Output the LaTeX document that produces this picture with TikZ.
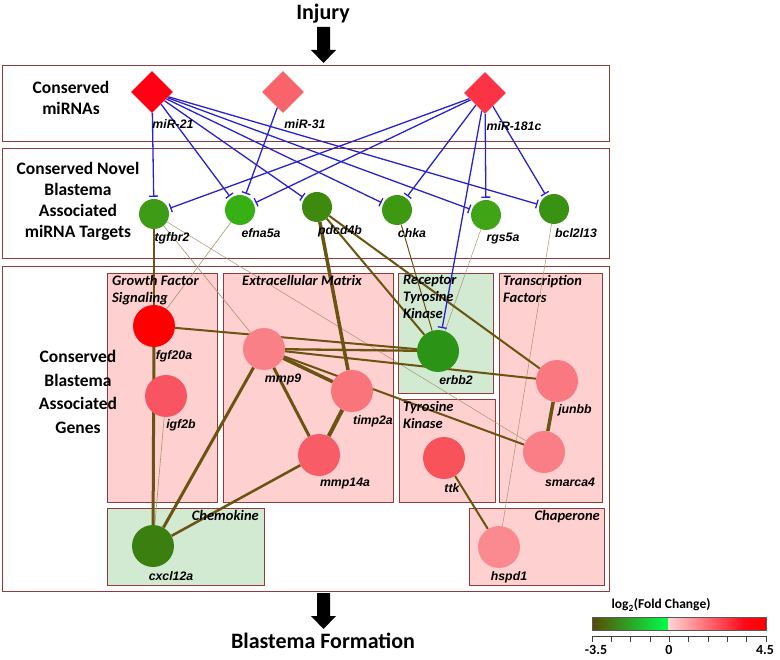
\documentclass[tikz,border=0pt]{standalone}
\usepackage{fontspec}
\setmainfont{Carlito}
\newfontfamily\arialf{Liberation Sans}
\usetikzlibrary{shapes.geometric,arrows.meta}
\pgfdeclarelayer{bg}
\pgfdeclarelayer{edges}
\pgfsetlayers{bg,edges,main}
\definecolor{boxline}{HTML}{8E3B3B}
\definecolor{pinkfill}{HTML}{FFD0D0}
\definecolor{greenfill}{HTML}{D2E9D2}
\definecolor{edgeol}{HTML}{6B5311}
\definecolor{thinol}{HTML}{A89470}
\definecolor{inhib}{HTML}{2A22CC}
\tikzset{
  mirna/.style={diamond, aspect=1, minimum width=42pt, minimum height=42pt, inner sep=0pt},
  tnode/.style={circle, minimum size=30pt, inner sep=0pt},
  gnode/.style={circle, minimum size=42pt, inner sep=0pt},
  lbl/.style={font=\arialf\bfseries\itshape\fontsize{12.3}{14}\selectfont, inner sep=0pt},
  sect/.style={font=\bfseries\fontsize{17.5}{21}\selectfont, align=center, inner sep=0pt},
  sectg/.style={font=\bfseries\fontsize{17.5}{23.5}\selectfont, align=center, inner sep=0pt},
  grp/.style={font=\bfseries\itshape\fontsize{14.5}{17}\selectfont, inner sep=0pt, align=left},
  bigbox/.style={draw=boxline, line width=0.9pt, fill=white},
  pinkbox/.style={draw=boxline, line width=0.9pt, fill=pinkfill},
  greenbox/.style={draw=boxline, line width=0.9pt, fill=greenfill},
  inh/.style={draw=inhib, line width=1.3pt, -{Bar[width=9pt,line width=1.3pt]}, shorten >=2pt},
  ia/.style={draw=edgeol},
  ib/.style={draw=thinol, line width=0.6pt},
  blockarrow/.style={fill=black},
  ticklbl/.style={font=\bfseries\fontsize{14}{16}\selectfont, inner sep=0pt},
}
\begin{document}
\begin{tikzpicture}[x=1pt,y=-1pt]
\useasboundingbox (0,0) rectangle (780,660);

% ---------- frames ----------
\begin{pgfonlayer}{bg}
\draw[bigbox] (2,65) rectangle (609,141);
\draw[bigbox] (2,148) rectangle (609,258);
\draw[bigbox] (2,266) rectangle (609,591);
\draw[pinkbox] (107,273) rectangle (217,502);
\draw[pinkbox] (223,273) rectangle (393,502);
\draw[greenbox] (398,273) rectangle (493,393);
\draw[pinkbox] (399,399) rectangle (495,502);
\draw[pinkbox] (499,273) rectangle (602,502);
\draw[greenbox] (107,508) rectangle (264,585);
\draw[pinkbox] (469,508) rectangle (604,585);
\end{pgfonlayer}

% ---------- titles and arrows ----------
\node[font=\bfseries\fontsize{22}{26}\selectfont, inner sep=0pt] (injury) at (323,14) {Injury};
\fill[blockarrow] (317,27) -- (330,27) -- (330,50) -- (336,50) -- (323.5,63) -- (311,50) -- (317,50) -- cycle;
\fill[blockarrow] (317,593) -- (330,593) -- (330,616) -- (336,616) -- (323.5,629) -- (311,616) -- (317,616) -- cycle;
\node[font=\bfseries\fontsize{22}{26}\selectfont, inner sep=0pt] (blastema) at (323,641) {Blastema Formation};

% ---------- section labels ----------
\node[sect] (s1) at (71,98) {Conserved\\miRNAs};
\node[sect] (s2) at (78,201) {Conserved Novel\\Blastema\\Associated\\miRNA Targets};
\node[sectg] (s3) at (78,392) {Conserved\\Blastema\\Associated\\Genes};

% ---------- group labels ----------
\node[grp, anchor=north west] (g1) at (112,275) {Growth Factor\\Signaling};
\node[grp, anchor=north] (g2) at (302,275) {Extracellular Matrix};
\node[grp, anchor=north west] (g3) at (403,275) {Receptor\\Tyrosine\\Kinase};
\node[grp, anchor=north west] (g4) at (403,401) {Tyrosine\\Kinase};
\node[grp, anchor=north west] (g5) at (503,275) {Transcription\\Factors};
\node[grp, anchor=north east] (g6) at (259,510) {Chemokine};
\node[grp, anchor=north east] (g7) at (600,510) {Chaperone};

% ---------- miRNAs ----------
\node[mirna, fill={rgb,255:red,255;green,0;blue,20}] (m21) at (152,92) {};
\node[mirna, fill={rgb,255:red,249;green,99;blue,106}] (m31) at (283,92) {};
\node[mirna, fill={rgb,255:red,252;green,51;blue,68}] (m181) at (485,93) {};
\node[lbl] (lm21) at (173,124) {miR-21};
\node[lbl] (lm31) at (305,124) {miR-31};
\node[lbl] (lm181) at (514,126) {miR-181c};

% ---------- targets ----------
\node[tnode, fill={rgb,255:red,62;green,155;blue,22}] (tgfbr2) at (154,214) {};
\node[tnode, fill={rgb,255:red,54;green,176;blue,20}] (efna5a) at (240,210) {};
\node[tnode, fill={rgb,255:red,62;green,138;blue,14}] (pdcd4b) at (317,207) {};
\node[tnode, fill={rgb,255:red,61;green,152;blue,18}] (chka) at (397,210) {};
\node[tnode, fill={rgb,255:red,63;green,165;blue,22}] (rgs5a) at (486,215) {};
\node[tnode, fill={rgb,255:red,58;green,146;blue,18}] (bcl2l13) at (554,209) {};
\node[lbl] (ltgfbr2) at (172,238) {tgfbr2};
\node[lbl] (lefna5a) at (261,233) {efna5a};
\node[lbl] (lpdcd4b) at (340,231) {pdcd4b};
\node[lbl] (lchka) at (412,233) {chka};
\node[lbl] (lrgs5a) at (503,239) {rgs5a};
\node[lbl] (lbcl2l13) at (576,233) {bcl2l13};

% ---------- genes ----------
\node[gnode, fill={rgb,255:red,255;green,0;blue,0}] (fgf20a) at (154,326) {};
\node[gnode, fill={rgb,255:red,248;green,84;blue,98}] (igf2b) at (166,396) {};
\node[gnode, fill={rgb,255:red,250;green,128;blue,136}] (mmp9) at (264,349) {};
\node[gnode, fill={rgb,255:red,250;green,116;blue,124}] (timp2a) at (352,391) {};
\node[gnode, fill={rgb,255:red,248;green,92;blue,102}] (mmp14a) at (319,455) {};
\node[gnode, fill={rgb,255:red,43;green,148;blue,23}] (erbb2) at (438,351) {};
\node[gnode, fill={rgb,255:red,248;green,82;blue,90}] (ttk) at (444,458) {};
\node[gnode, fill={rgb,255:red,250;green,120;blue,128}] (junbb) at (557,381) {};
\node[gnode, fill={rgb,255:red,250;green,126;blue,134}] (smarca4) at (544,452) {};
\node[gnode, fill={rgb,255:red,58;green,127;blue,16}] (cxcl12a) at (153,546) {};
\node[gnode, fill={rgb,255:red,250;green,138;blue,144}] (hspd1) at (499,547) {};
\node[lbl] (lfgf20a) at (174,356) {fgf20a};
\node[lbl] (ligf2b) at (181,425) {igf2b};
\node[lbl] (lmmp9) at (283,379) {mmp9};
\node[lbl] (ltimp2a) at (373,421) {timp2a};
\node[lbl] (lmmp14a) at (345,484) {mmp14a};
\node[lbl] (lerbb2) at (456,380) {erbb2};
\node[lbl] (lttk) at (452,488) {ttk};
\node[lbl] (ljunbb) at (575,410) {junbb};
\node[lbl] (lsmarca4) at (570,482) {smarca4};
\node[lbl] (lcxcl12a) at (171,576) {cxcl12a};
\node[lbl] (lhspd1) at (509,577) {hspd1};

% ---------- edges ----------
\begin{pgfonlayer}{edges}
% gene interactions
\draw[ib] (tgfbr2) -- (mmp9);
\draw[ib, line width=0.5pt] (tgfbr2) -- (smarca4);
\draw[ib] (efna5a) -- (fgf20a);
\draw[ib] (igf2b) -- (cxcl12a);
\draw[ib, line width=0.5pt] (rgs5a) -- (erbb2);
\draw[ib, line width=0.5pt] (bcl2l13) -- (hspd1);
\draw[ia, line width=1pt] (chka) -- (erbb2);
\draw[ia, line width=2.2pt] (tgfbr2) -- (fgf20a);
\draw[ia, line width=3pt] (fgf20a) -- (cxcl12a);
\draw[ia, line width=2pt] (fgf20a) -- (erbb2);
\draw[ia, line width=2.3pt] (mmp9) -- (erbb2);
\draw[ia, line width=2pt] (mmp9) -- (junbb);
\draw[ia, line width=3.5pt] (mmp9) -- (timp2a);
\draw[ia, line width=2pt] (mmp9) -- (smarca4);
\draw[ia, line width=3pt] (mmp9) -- (mmp14a);
\draw[ia, line width=4pt] (timp2a) -- (mmp14a);
\draw[ia, line width=3pt] (mmp9) -- (cxcl12a);
\draw[ia, line width=2.5pt] (mmp14a) -- (cxcl12a);
\draw[ia, line width=3.5pt] (pdcd4b) -- (timp2a);
\draw[ia, line width=2pt] (pdcd4b) -- (erbb2);
\draw[ia, line width=2pt] (pdcd4b) -- (junbb);
\draw[ia, line width=2pt] (ttk) -- (hspd1);
\draw[ia, line width=3.5pt] (junbb) -- (smarca4);
% miRNA inhibition
\draw[inh] (m21) -- (tgfbr2);
\draw[inh] (m21) -- (efna5a);
\draw[inh] (m21) -- (pdcd4b);
\draw[inh] (m21) -- (chka);
\draw[inh] (m21) -- (rgs5a);
\draw[inh] (m21) -- (bcl2l13);
\draw[inh] (m31) -- (efna5a);
\draw[inh] (m181) -- (tgfbr2);
\draw[inh] (m181) -- (efna5a);
\draw[inh] (m181) -- (chka);
\draw[inh] (m181) -- (rgs5a);
\draw[inh] (m181) -- (bcl2l13);
\draw[inh] (m181) -- (erbb2);
\end{pgfonlayer}

% ---------- legend ----------
\node[font=\bfseries\fontsize{13.5}{15}\selectfont, inner sep=0pt] (legtitle) at (661,605) {log\textsubscript{2}(Fold Change)};
\shade[left color={rgb,255:red,88;green,74;blue,6}, right color={rgb,255:red,0;green,255;blue,72}] (592,617) rectangle (668,630);
\shade[left color={rgb,255:red,255;green,214;blue,214}, right color={rgb,255:red,255;green,6;blue,22}] (668,617) rectangle (745,630);
\shade[left color={rgb,255:red,255;green,6;blue,22}, right color={rgb,255:red,255;green,0;blue,0}] (745,617) rectangle (766,630);
\draw[gray!70!black, line width=0.5pt] (592,617) rectangle (766,630);
\draw[black!75, line width=0.8pt] (592,636) -- (766,636);
\foreach \i in {0,...,9} {
  \draw[black!75, line width=0.8pt] ({592+\i*174/9},636) -- ({592+\i*174/9},642);
}
\node[ticklbl] (tk1) at (596,650) {-3.5};
\node[ticklbl] (tk2) at (669,650) {0};
\node[ticklbl] (tk3) at (765,650) {4.5};
\end{tikzpicture}
\end{document}
